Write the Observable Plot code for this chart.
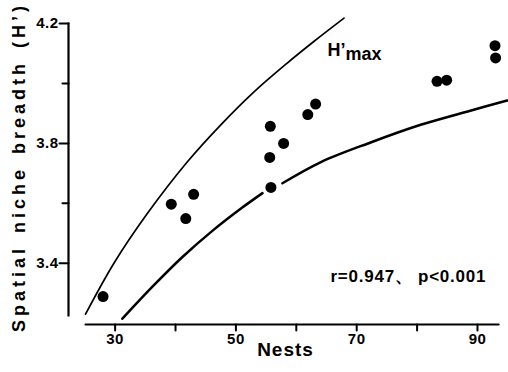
<!DOCTYPE html>
<html><head><meta charset="utf-8">
<script src="https://cdn.jsdelivr.net/npm/d3@7"></script>
<script src="https://cdn.jsdelivr.net/npm/@observablehq/plot@0.6"></script>
<style>
html,body{margin:0;padding:0;background:#fff;}
</style></head>
<body><div id="chart"></div>
<script>
// Observed points
const nests   = [28.0, 39.3, 41.7, 43.0, 55.7, 55.6, 55.8, 57.9, 61.9, 63.2, 83.3, 84.9, 92.9, 93.0];
const breadth = [3.289, 3.597, 3.549, 3.630, 3.857, 3.753, 3.653, 3.800, 3.896, 3.931, 4.007, 4.011, 4.126, 4.085];
// Upper curve (H'max)
const maxNests = [25.1, 29.8, 35.3, 41.9, 47.5, 53.0, 58.5, 62.9, 67.9];
const maxH     = [3.23, 3.40, 3.565, 3.737, 3.862, 3.972, 4.068, 4.140, 4.218];
// Lower curve (broken near the point at 56)
const lowNests = [31.2, 36.1, 41.1, 46.1, 51.0, 54.4, 56.0, 57.7, 64.0, 72.3, 80.6, 88.8, 94.9];
const lowH     = [3.215, 3.32, 3.42, 3.508, 3.585, 3.634, null, 3.667, 3.737, 3.803, 3.862, 3.909, 3.943];
// Ticks and axis extents
const yMajor = [3.4, 3.8, 4.2];
const yMinor = [3.6, 4.0];
const xMajor = [30, 50, 70, 90];
const xMinor = [40, 60, 80];
const xExtent = [25.1, 93.5];
const yExtent = [3.226, 4.2];
const xTitle = "Nests";
const yTitle = "Spatial niche breadth (H’)";
const statText = "r=0.947、 p<0.001";

const points = nests.map((n, i) => ({n, h: breadth[i]}));
const upper = maxNests.map((n, i) => ({n, h: maxH[i]}));
const lower = lowNests.map((n, i) => ({n, h: lowH[i]}));

const xDomain = [22.28, 93.48];
const yDomain = [3.1957, 4.2];
const ink = "#000";
const ff = "Liberation Sans, Arial, sans-serif";

// axis lines as paths
const yAxisLine = yExtent.map(h => ({n: xDomain[0], h}));
const xAxisLine = xExtent.map(n => ({n, h: yDomain[0]}));
// tick segment shape (draws a straight stroke of the given pixel length)
const stick = {draw(context, l) { context.moveTo(0, 0); context.lineTo(0, -l); }};

const chart = Plot.plot({
  width: 508,
  height: 372,
  marginLeft: 68,
  marginRight: 10,
  marginTop: 23,
  marginBottom: 48,
  x: {domain: xDomain},
  y: {domain: yDomain},
  marks: [
    Plot.line(yAxisLine, {x: "n", y: "h", stroke: ink, strokeWidth: 2.2, strokeLinecap: "square"}),
    Plot.line(xAxisLine, {x: "n", y: "h", stroke: ink, strokeWidth: 2.2}),
    Plot.vector(yMajor, {x: xDomain[0], y: d => d, length: 9, rotate: -90, anchor: "start", shape: stick, stroke: ink, strokeWidth: 2}),
    Plot.vector(yMinor, {x: xDomain[0], y: d => d, length: 6, rotate: -90, anchor: "start", shape: stick, stroke: ink, strokeWidth: 2}),
    Plot.vector(xMajor.concat(xMinor), {x: d => d, y: yDomain[0], length: 6, rotate: 180, anchor: "start", shape: stick, stroke: ink, strokeWidth: 2}),
    Plot.axisY(yMajor, {tickSize: 0, tickPadding: 10, fontSize: 15, fontWeight: "bold", fontFamily: ff, fill: ink, tickFormat: d3.format(".1f"), label: null}),
    Plot.axisX(xMajor, {tickSize: 0, tickPadding: 9, fontSize: 15, fontWeight: "bold", fontFamily: ff, fill: ink, label: null}),
    Plot.line(upper, {x: "n", y: "h", curve: "catmull-rom", stroke: ink, strokeWidth: 1.7}),
    Plot.line(lower, {x: "n", y: "h", curve: "catmull-rom", stroke: ink, strokeWidth: 2.5}),
    Plot.dot(points, {x: "n", y: "h", r: 5.5, fill: ink}),
    Plot.text([yTitle], {frameAnchor: "left", textAnchor: "middle", rotate: -90, dx: -49, dy: -7, fontSize: 18, fontWeight: "bold", fontFamily: ff, fill: ink}),
    Plot.text([xTitle], {frameAnchor: "bottom", dx: 2, dy: 31, fontSize: 19, fontWeight: "bold", fontFamily: ff, fill: ink}),
    Plot.text(["H’"], {frameAnchor: "top-left", dx: 259, dy: 32, lineAnchor: "bottom", textAnchor: "start", fontSize: 18, fontWeight: "bold", fontFamily: ff, fill: ink}),
    Plot.text(["max"], {frameAnchor: "top-left", dx: 277, dy: 36, lineAnchor: "bottom", textAnchor: "start", fontSize: 18, fontWeight: "bold", fontFamily: ff, fill: ink}),
    Plot.text([statText], {frameAnchor: "top-left", dx: 262, dy: 258, lineAnchor: "bottom", textAnchor: "start", fontSize: 17, fontWeight: "bold", fontFamily: ff, fill: ink})
  ]
});
document.getElementById("chart").appendChild(chart);

const spacing = new Map([[yTitle, ["4px", "3px"]], [xTitle, ["1px", "0px"]], [statText, ["0.75px", "0px"]]]);
d3.select(chart).selectAll("text").each(function () {
  const s = spacing.get(this.textContent);
  if (s) d3.select(this).style("letter-spacing", s[0]).style("word-spacing", s[1]);
  else if (/^\d\.\d$|^\d\d$/.test(this.textContent)) d3.select(this).style("letter-spacing", "0.5px");
});
</script>
</body></html>
